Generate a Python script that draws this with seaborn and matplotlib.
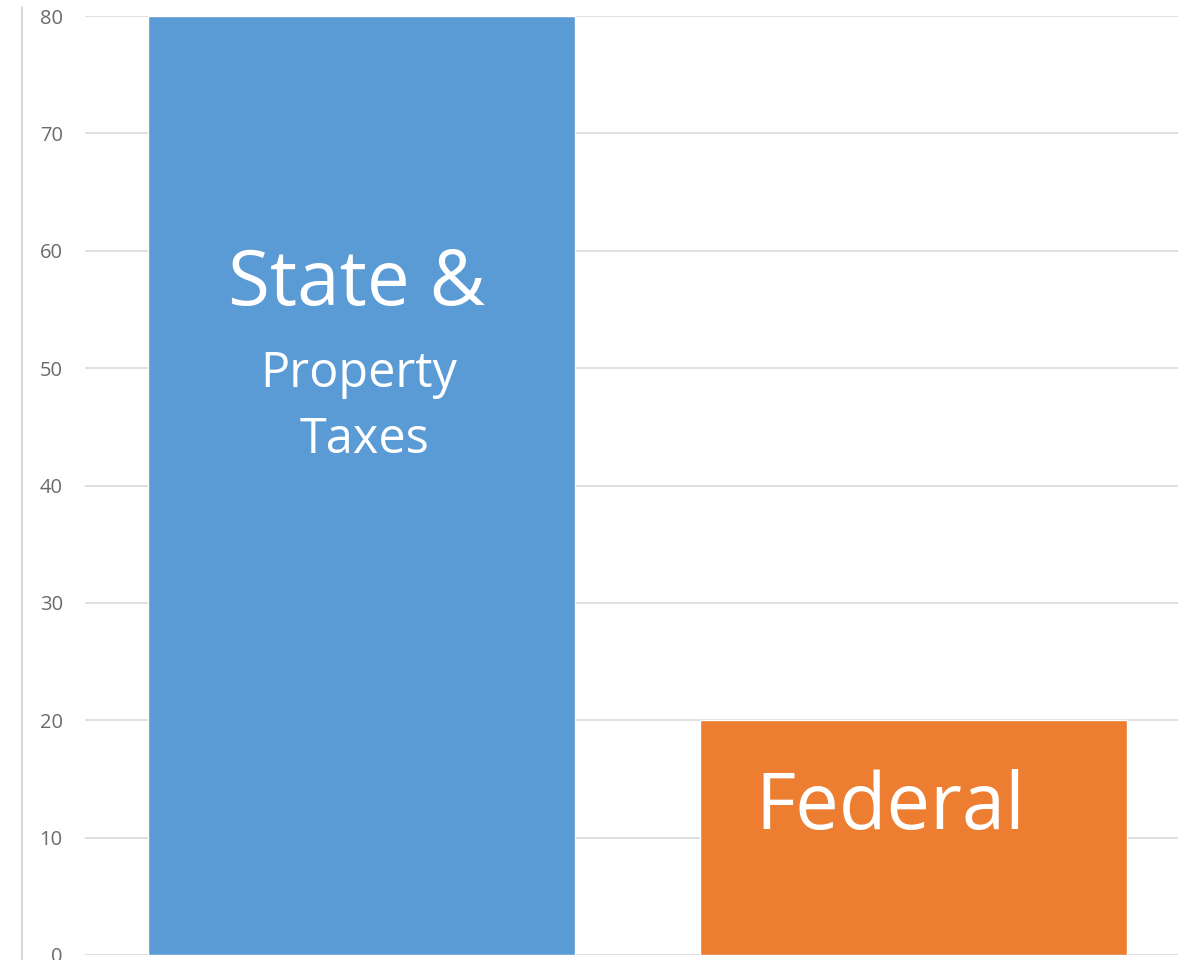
import matplotlib
matplotlib.use("Agg")
import matplotlib.pyplot as plt
from matplotlib.lines import Line2D
import seaborn as sns
import pandas as pd

categories = ["State & Property Taxes", "Federal"]
values = [80, 20]
colors = ["#5B9BD5", "#ED7D31"]
y_ticks = [0, 10, 20, 30, 40, 50, 60, 70, 80]

sns.set_theme(style="white")
plt.rcParams["font.family"] = ["Open Sans", "DejaVu Sans"]

W, H = 1178, 960
fig = plt.figure(figsize=(W / 100, H / 100), dpi=100)
ax = fig.add_axes([85 / W, 5 / H, (W - 85) / W, (955 - 16) / H])

df = pd.DataFrame({"cat": categories, "val": values})
sns.barplot(data=df, x="cat", y="val", hue="cat", palette=colors,
            width=0.773, legend=False, ax=ax, saturation=1, zorder=3)

ax.set_ylim(0, 80)
ax.set_xlim(-0.5, 1.478)
ax.set_yticks(y_ticks)
ax.set_yticklabels([str(t) for t in y_ticks], fontsize=14.5, color="#6b6b6b")
ax.tick_params(axis="y", length=0, pad=16)
ax.set_xticks([])
ax.set_xlabel("")
ax.set_ylabel("")
ax.grid(axis="y", color="#d9d9d9", linewidth=1.2, zorder=0)
ax.set_axisbelow(True)
for s in ax.spines.values():
    s.set_visible(False)

# left border line
fig.add_artist(Line2D([22 / W, 22 / W], [0, 953 / H], transform=fig.transFigure,
                      color="#cfcfcf", linewidth=1.2))

# in-bar labels
ax.text(-0.008, 55.4, "State &", ha="center", va="baseline", color="white", fontsize=55)
ax.text(-0.005, 48.4, "Property", ha="center", va="baseline", color="white", fontsize=35)
ax.text(0.006, 42.8, "Taxes", ha="center", va="baseline", color="white", fontsize=35)
ax.text(0.958, 10.7, "Federal", ha="center", va="baseline", color="white", fontsize=56)

fig.savefig("out.png", dpi=100)
